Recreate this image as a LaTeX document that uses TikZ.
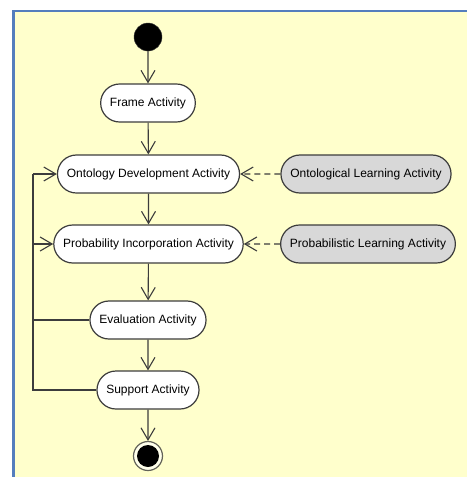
\documentclass[tikz,border=0pt]{standalone}
\usepackage{fontspec}
\setmainfont{Liberation Sans}
\usetikzlibrary{shapes.misc,arrows.meta}
\definecolor{bgyellow}{RGB}{255,255,204}
\definecolor{framblue}{RGB}{84,126,189}
\definecolor{linegray}{RGB}{60,60,60}
\definecolor{actgray}{RGB}{216,216,216}
\tikzset{
  act/.style={rounded rectangle, draw=linegray, line width=1.2pt, fill=white,
    minimum height=38pt, inner xsep=8.5pt, inner ysep=0pt,
    font=\fontsize{12}{14}\selectfont},
  learnact/.style={act, fill=actgray},
  flow/.style={draw=linegray, line width=1.1pt, -{Straight Barb[length=12pt,width=14pt,line width=1.1pt]}},
  plainflow/.style={draw=linegray, line width=1.1pt},
  depflow/.style={flow, dash pattern=on 6pt off 4pt},
}
\begin{document}
\begin{tikzpicture}[x=1pt,y=-1pt]
\useasboundingbox (0,0) rectangle (467,477);
\fill[white] (0,0) rectangle (467,477);
\fill[bgyellow] (13,11) rectangle (467,477);
\draw[framblue, line width=2.5pt] (13.5,477) -- (13.5,11) -- (467,11);

\node[circle, fill=black, draw=linegray, minimum size=28pt, inner sep=0pt] (start) at (148,37) {};
\node[act] (frame) at (148,103) {Frame Activity};
\node[act] (onto) at (148.5,174) {Ontology Development Activity};
\node[act] (prob) at (148.5,244) {Probability Incorporation Activity};
\node[act] (eval) at (148,320) {Evaluation Activity};
\node[act] (supp) at (148,390) {Support Activity};
\node[circle, draw=linegray!80!bgyellow, line width=1.2pt, fill=bgyellow!40!white, minimum size=29pt, inner sep=0pt] (final) at (148,456) {};
\node[circle, fill=black, minimum size=22pt, inner sep=0pt] at (final.center) {};

\node[learnact] (ontolearn) at (366,174) {Ontological Learning Activity};
\node[learnact] (problearn) at (368,244) {Probabilistic Learning Activity};

\coordinate (lo) at (33,174);
\coordinate (lp) at (33,244);
\coordinate (le) at (33,320);
\coordinate (ls) at (33,390);

\draw[flow] (start) -- (frame);
\draw[flow] (frame) -- (onto);
\draw[flow] (onto) -- (prob);
\draw[flow] (prob) -- (eval);
\draw[flow] (eval) -- (supp);
\draw[flow] (supp) -- (final);

\draw[plainflow] (supp.west) -- (ls) -- (lo);
\draw[plainflow] (eval.west) -- (le);
\draw[flow] (lo) -- (onto.west);
\draw[flow] (lp) -- (prob.west);

\draw[depflow] (ontolearn) -- (onto);
\draw[depflow] (problearn) -- (prob);
\end{tikzpicture}
\end{document}
